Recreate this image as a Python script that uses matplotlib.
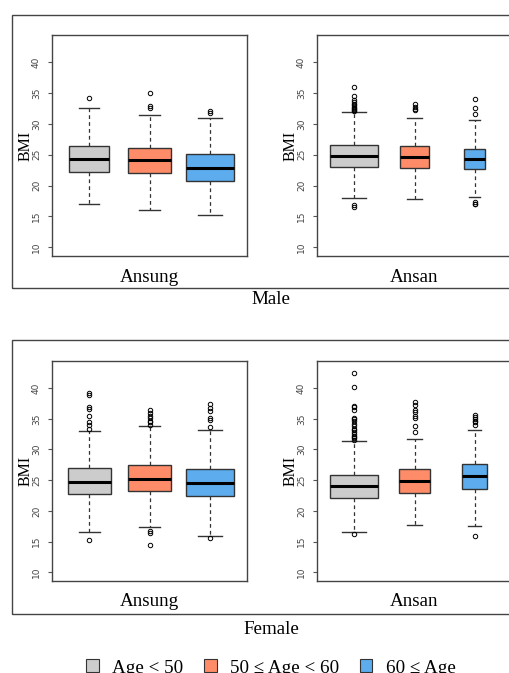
import matplotlib.pyplot as plt
from matplotlib.patches import Rectangle, Patch

W, H = 509, 673

groups = ["Age < 50", "50 \u2264 Age < 60", "60 \u2264 Age"]
colors = ["#CCCCCC", "#FF8C69", "#5CACEE"]

# five-number summaries per panel: (low whisker, Q1, median, Q3, high whisker)
male_ansung = [(17.1, 22.2, 24.35, 26.35, 32.6),
               (16.0, 22.0, 24.15, 26.1, 31.45),
               (15.3, 20.75, 22.9, 25.05, 31.0)]
male_ansung_out = [[34.25], [32.6, 32.9, 35.0], [31.8, 32.1]]
male_ansung_w = [0.66, 0.70, 0.80]

male_ansan = [(17.95, 23.0, 24.75, 26.55, 31.95),
              (17.85, 22.85, 24.6, 26.45, 31.0),
              (18.1, 22.75, 24.3, 25.95, 30.65)]
male_ansan_out = [[16.6, 16.8, 32.1, 32.2, 32.4, 32.6, 32.8, 33.0, 33.2, 33.5, 33.8, 34.5, 36.0],
                  [32.2, 32.4, 32.8, 33.2],
                  [17.0, 17.1, 17.3, 31.6, 32.6, 34.05]]
male_ansan_w = [0.80, 0.48, 0.35]

female_ansung = [(16.55, 22.7, 24.7, 27.0, 32.95),
                 (17.35, 23.25, 25.25, 27.45, 33.75),
                 (16.0, 22.4, 24.55, 26.75, 33.2)]
female_ansung_out = [[15.35, 33.35, 34.05, 34.4, 35.5, 36.55, 36.85, 38.9, 39.15],
                     [14.4, 16.4, 16.7, 34.0, 34.4, 34.7, 35.1, 35.5, 36.0, 36.4],
                     [15.6, 33.6, 34.8, 35.1, 36.2, 36.75, 37.4]]
female_ansung_w = [0.71, 0.70, 0.80]

female_ansan = [(16.5, 22.1, 24.0, 25.9, 31.45),
                (17.75, 23.0, 24.9, 26.75, 31.7),
                (17.6, 23.6, 25.75, 27.7, 33.1)]
female_ansan_out = [[16.2, 31.6, 31.8, 32.0, 32.2, 32.5, 32.8, 33.1, 33.4, 33.8, 34.2, 34.6, 35.0,
                     35.1, 36.4, 36.85, 37.1, 40.2, 42.4],
                    [32.8, 33.9, 35.1, 35.5, 36.1, 36.4, 37.3, 37.7],
                    [16.0, 34.0, 34.4, 34.7, 35.0, 35.3, 35.6]]
female_ansan_w = [0.80, 0.51, 0.42]

yticks = [10, 15, 20, 25, 30, 35, 40]

plt.rcParams['font.family'] = ['Liberation Serif', 'DejaVu Serif']

fig = plt.figure(figsize=(W / 100, H / 100), dpi=100)


def px_axes(x0, y0, x1, y1):
    return fig.add_axes([x0 / W, 1 - y1 / H, (x1 - x0) / W, (y1 - y0) / H])


def panel(ax, summ, outs, widths, site):
    stats = []
    for (lo, q1, med, q3, hi), fl in zip(summ, outs):
        stats.append(dict(whislo=lo, q1=q1, med=med, q3=q3, whishi=hi, fliers=fl))
    bp = ax.bxp(stats, positions=[1, 2, 3], widths=widths, patch_artist=True,
                boxprops=dict(edgecolor="#333333", linewidth=1.0),
                medianprops=dict(color="black", linewidth=2.2),
                whiskerprops=dict(color="#333333", linewidth=0.9, linestyle=(0, (3, 2.5))),
                capprops=dict(color="#333333", linewidth=1.0),
                flierprops=dict(marker="o", markersize=3.2, markerfacecolor="none",
                                markeredgecolor="black", markeredgewidth=0.7))
    for box, c in zip(bp["boxes"], colors):
        box.set_facecolor(c)
    for i, cap in enumerate(bp["caps"]):
        # R staples are half the box width
        w = widths[i // 2] / 4
        cap.set_xdata([1 + i // 2 - w, 1 + i // 2 + w])
    ax.set_xlim(0.38, 3.62)
    ax.set_ylim(8.6, 44.4)
    ax.set_xticks([])
    ax.set_yticks(yticks)
    ax.set_yticklabels([str(t) for t in yticks], rotation=90, va="center",
                       family="DejaVu Sans", fontsize=6.5, color="#444444")
    ax.tick_params(axis="y", length=3, width=0.8, color="#555555", pad=5)
    for s in ax.spines.values():
        s.set_color("#444444")
        s.set_linewidth(1.0)
    ax.set_ylabel("BMI", fontsize=11.5, labelpad=-1.5)
    ax.set_xlabel(site, fontsize=13.7, labelpad=9)


rows = [(35, 256, [male_ansung, male_ansan], [male_ansung_out, male_ansan_out],
         [male_ansung_w, male_ansan_w], "Male", 300, (15, 288)),
        (361, 581, [female_ansung, female_ansan], [female_ansung_out, female_ansan_out],
         [female_ansung_w, female_ansan_w], "Female", 630, (340, 614))]

for y0, y1, summs, outs, ws, sex, ty, (fy0, fy1) in rows:
    ax1 = px_axes(52, y0, 247, y1)
    panel(ax1, summs[0], outs[0], ws[0], "Ansung")
    ax2 = px_axes(317, y0, 512, y1)
    panel(ax2, summs[1], outs[1], ws[1], "Ansan")
    fig.patches.append(Rectangle((12 / W, 1 - fy1 / H), 1.2, (fy1 - fy0) / H,
                                 transform=fig.transFigure, fill=False,
                                 edgecolor="#444444", linewidth=1.0))
    fig.text(271 / W, 1 - ty / H, sex, ha="center", va="center", fontsize=13.7)

handles = [Patch(facecolor=c, edgecolor="#333333", linewidth=0.8) for c in colors]
fig.legend(handles, groups, loc="center", bbox_to_anchor=(271 / W, 1 - 668 / H),
           ncol=3, frameon=False, fontsize=13.7, handlelength=0.65, handleheight=0.65,
           handletextpad=0.7, columnspacing=1.1)

fig.savefig("out.png", dpi=100)
